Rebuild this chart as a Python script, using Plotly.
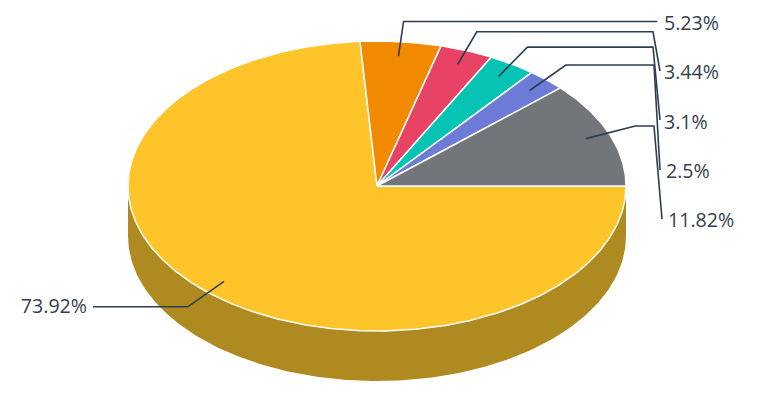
import numpy as np
import plotly.graph_objects as go

labels = ["73.92%", "5.23%", "3.44%", "3.1%", "2.5%", "11.82%"]
values = [73.92, 5.23, 3.44, 3.1, 2.5, 11.82]
colors = ["#FFC42A", "#F28A00", "#E84364", "#05C4B4", "#6D7BD6", "#72767A"]
wall_color = "#AF8A20"

CX, CY, RX, RY, DEPTH = 377, 186, 249, 145, 50
LINE_COLOR = "#2C3E50"
TEXT_COLOR = "#333F4D"
# label placement: (text x, text y, text anchor, connector end x, connector end y, connector knee x)
label_slots = [
    (87, 308, "middle left", 93, None, None),
    (664, 25, "middle right", 657, None, None),
    (664, 74, "middle right", 660, 71, 653),
    (664, 124, "middle right", 660, 120, 653),
    (666, 173, "middle right", 660, 170, 654),
    (668, 222, "middle right", 662, 219, 654),
]


def pt(theta, r=1.0, dz=0):
    return CX + r * RX * np.cos(theta), CY + r * RY * np.sin(theta) + dz


fig = go.Figure()
total = sum(values)
edges = np.cumsum([0] + values) / total * 2 * np.pi

# side wall: the front half of the rim
t = np.linspace(0, np.pi, 200)
x1, y1 = pt(t)
x2, y2 = pt(t[::-1], dz=DEPTH)
fig.add_trace(go.Scatter(x=np.r_[x1, x2], y=np.r_[y1, y2], fill="toself", fillcolor=wall_color,
                         mode="lines", line=dict(color=wall_color, width=0), hoverinfo="skip"))

# top slices
for i, v in enumerate(values):
    t = np.linspace(edges[i], edges[i + 1], max(int(v * 6), 8))
    x, y = pt(t)
    fig.add_trace(go.Scatter(x=np.r_[CX, x, CX], y=np.r_[CY, y, CY], fill="toself", fillcolor=colors[i],
                             mode="lines", line=dict(color="#FFFFFF", width=1.5),
                             name=labels[i], hoverinfo="name"))

# connectors
for i, v in enumerate(values):
    mid = (edges[i] + edges[i + 1]) / 2
    ax, ay = pt(mid, 0.9)
    kx = CX + 1.113 * RX * np.cos(mid)
    ky = CY + 1.14 * RY * np.sin(mid)
    tx, ty, anchor, ex, ey, knee = label_slots[i]
    if knee is None:
        xs, ys = [ax, kx, ex], [ay, ky, ky]
    else:
        xs, ys = [ax, kx, knee, ex], [ay, ky, ky, ey]
    fig.add_trace(go.Scatter(x=xs, y=ys, mode="lines", line=dict(color=LINE_COLOR, width=1.6), hoverinfo="skip"))

# labels
fig.add_trace(go.Scatter(x=[s[0] for s in label_slots], y=[s[1] for s in label_slots], text=labels,
                         textposition=[s[2] for s in label_slots], mode="text", hoverinfo="skip",
                         textfont=dict(family="Open Sans", size=19.6, color=TEXT_COLOR)))

fig.update_layout(width=777, height=400, margin=dict(l=0, r=0, t=0, b=0), showlegend=False,
                  paper_bgcolor="white", plot_bgcolor="white",
                  xaxis=dict(range=[0, 777], visible=False, fixedrange=True),
                  yaxis=dict(range=[400, 0], visible=False, fixedrange=True))
fig.write_html("out.html", post_script="document.body.style.margin='0';", config={"displayModeBar": False})
